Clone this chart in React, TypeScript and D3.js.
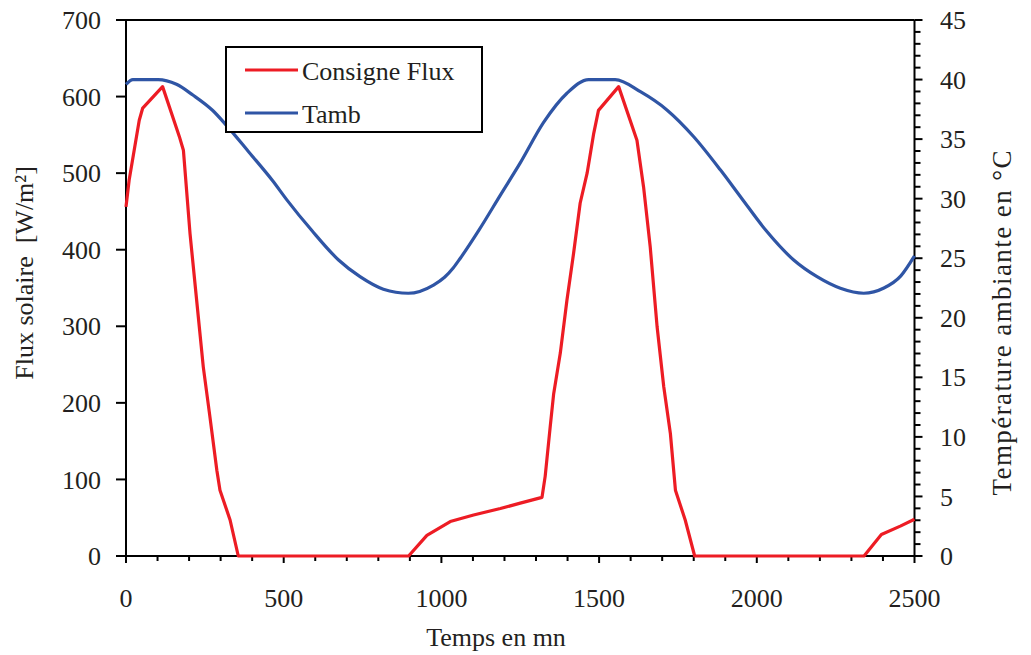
import React from "react";
import * as d3 from "d3";

// Consigne Flux (W/m²) vs time (mn)
const fluxTime = [0, 10, 42, 53, 116, 169, 182, 203, 224, 245, 266, 288, 298, 330, 356, 896, 954, 1028, 1102, 1187, 1250, 1319, 1329, 1345, 1356, 1377, 1398, 1419, 1440, 1462, 1483, 1498, 1562, 1620, 1641, 1662, 1684, 1705, 1726, 1742, 1773, 1803, 2340, 2395, 2455, 2500];
const fluxValue = [456, 491, 569, 585, 613, 548, 530, 421, 334, 247, 182, 112, 86, 47, 0, 0, 27, 45, 53.5, 62, 69, 76.6, 104, 169, 212, 265, 334, 395, 461, 500, 552, 582, 613, 543, 482, 404, 299, 221, 160, 86, 47, 0, 0, 28, 39, 48];

// Tamb (°C) vs time (mn)
const tambTime = [0, 22, 102, 160, 212, 275, 317, 390, 465, 510, 590, 674, 742, 816, 895, 975, 1010, 1038, 1060, 1120, 1187, 1250, 1324, 1398, 1467, 1551, 1631, 1715, 1800, 1885, 1950, 2030, 2117, 2191, 2265, 2339, 2403, 2456, 2500];
const tambValue = [39.6, 40, 40, 39.6, 38.7, 37.4, 36.2, 33.9, 31.5, 29.9, 27.3, 24.85, 23.45, 22.4, 22.06, 22.75, 23.4, 24.2, 25.0, 27.4, 30.3, 33.0, 36.4, 38.85, 40, 40, 38.98, 37.45, 35.2, 32.4, 30.1, 27.3, 24.85, 23.45, 22.48, 22.06, 22.5, 23.5, 25.2];

const xTicks = [0, 500, 1000, 1500, 2000, 2500];
const leftTicks = [0, 100, 200, 300, 400, 500, 600, 700];
const rightTicks = [0, 5, 10, 15, 20, 25, 30, 35, 40, 45];

const seriesNames = ["Consigne Flux", "Tamb"];
const xTitle = "Temps en mn";
const yLeftTitle = "Flux solaire  [W/m²]";
const yRightTitle = "Température ambiante en °C";

const RED = "#ED1C24";
const BLUE = "#2F55A5";
const INK = "#231F20";
const FONT = "'Liberation Serif', 'Times New Roman', serif";

export default function App() {
  const x = d3.scaleLinear().domain([0, 2500]).range([126, 914.5]);
  const yL = d3.scaleLinear().domain([0, 700]).range([556, 20]);
  const yR = d3.scaleLinear().domain([0, 45]).range([556, 20]);

  const fluxData = fluxTime.map((t, i) => [t, fluxValue[i]] as [number, number]);
  const tambData = tambTime.map((t, i) => [t, tambValue[i]] as [number, number]);

  const fluxLine = d3.line<[number, number]>().x(d => x(d[0])).y(d => yL(d[1]));
  const tambLine = d3
    .line<[number, number]>()
    .x(d => x(d[0]))
    .y(d => yR(d[1]))
    .curve(d3.curveMonotoneX);

  const xMinor = d3.range(0, 2501, 100);
  const rMinor = d3.range(0, 46, 1);

  const [x0, x1] = x.range();
  const yTop = 20;
  const yBot = 556;

  return (
    <svg
      width={1031}
      height={655}
      style={{ position: "absolute", left: 0, top: 0, background: "#fff" }}
      fontFamily={FONT}
    >
      <rect x={0} y={0} width={1031} height={655} fill="#fff" />
      {/* frame */}
      <line x1={x0} y1={yTop} x2={x1} y2={yTop} stroke="#000" strokeWidth={2} />
      <line x1={x0} y1={yTop} x2={x0} y2={yBot} stroke="#000" strokeWidth={2} />
      <line x1={x1} y1={yTop} x2={x1} y2={yBot} stroke="#000" strokeWidth={2} />
      <line x1={x0} y1={yBot} x2={x1} y2={yBot} stroke="#000" strokeWidth={2} />

      {/* x ticks */}
      {xMinor.map(t => (
        <line
          key={"xm" + t}
          x1={x(t)}
          x2={x(t)}
          y1={yBot}
          y2={yBot + (t % 500 === 0 ? 7 : 5)}
          stroke="#000"
          strokeWidth={2}
        />
      ))}
      {xTicks.map(t => (
        <text key={"xl" + t} x={x(t)} y={607} textAnchor="middle" fontSize={26} fill={INK}>
          {t}
        </text>
      ))}

      {/* left ticks */}
      {leftTicks.map(v => (
        <g key={"yl" + v}>
          <line x1={x0 - 10} x2={x0} y1={yL(v)} y2={yL(v)} stroke="#000" strokeWidth={2} />
          <text x={101} y={yL(v)} dy="0.35em" textAnchor="end" fontSize={26} fill={INK}>
            {v}
          </text>
        </g>
      ))}

      {/* right ticks */}
      {rMinor.map(v => (
        <line
          key={"rm" + v}
          x1={x1}
          x2={x1 + (v % 5 === 0 ? 8 : 6)}
          y1={yR(v)}
          y2={yR(v)}
          stroke="#000"
          strokeWidth={2}
        />
      ))}
      {rightTicks.map(v => (
        <text key={"rl" + v} x={940} y={yR(v)} dy="0.35em" textAnchor="start" fontSize={26} fill={INK}>
          {v}
        </text>
      ))}

      {/* series */}
      <path d={tambLine(tambData) || ""} fill="none" stroke={BLUE} strokeWidth={3.2} strokeLinejoin="round" />
      <path d={fluxLine(fluxData) || ""} fill="none" stroke={RED} strokeWidth={3.2} strokeLinejoin="round" />

      {/* axis titles */}
      <text x={496} y={646} textAnchor="middle" fontSize={26} fill={INK}>
        {xTitle}
      </text>
      <text
        transform={`translate(33, 273) rotate(-90)`}
        textAnchor="middle"
        fontSize={26}
        fill={INK}
        style={{ whiteSpace: "pre" }}
      >
        {yLeftTitle}
      </text>
      <text
        transform={`translate(1011, 323) rotate(-90)`}
        textAnchor="middle"
        fontSize={27}
        fill={INK}
        textLength={345}
        lengthAdjust="spacing"
      >
        {yRightTitle}
      </text>

      {/* legend */}
      <rect x={226} y={47} width={256} height={85} fill="#fff" stroke="#000" strokeWidth={2} />
      <line x1={245} x2={298} y1={70} y2={70} stroke={RED} strokeWidth={3.2} />
      <text x={302} y={80} fontSize={26} fill={INK}>
        {seriesNames[0]}
      </text>
      <line x1={245} x2={298} y1={113} y2={113} stroke={BLUE} strokeWidth={3.2} />
      <text x={302} y={123} fontSize={26} fill={INK}>
        {seriesNames[1]}
      </text>
    </svg>
  );
}
